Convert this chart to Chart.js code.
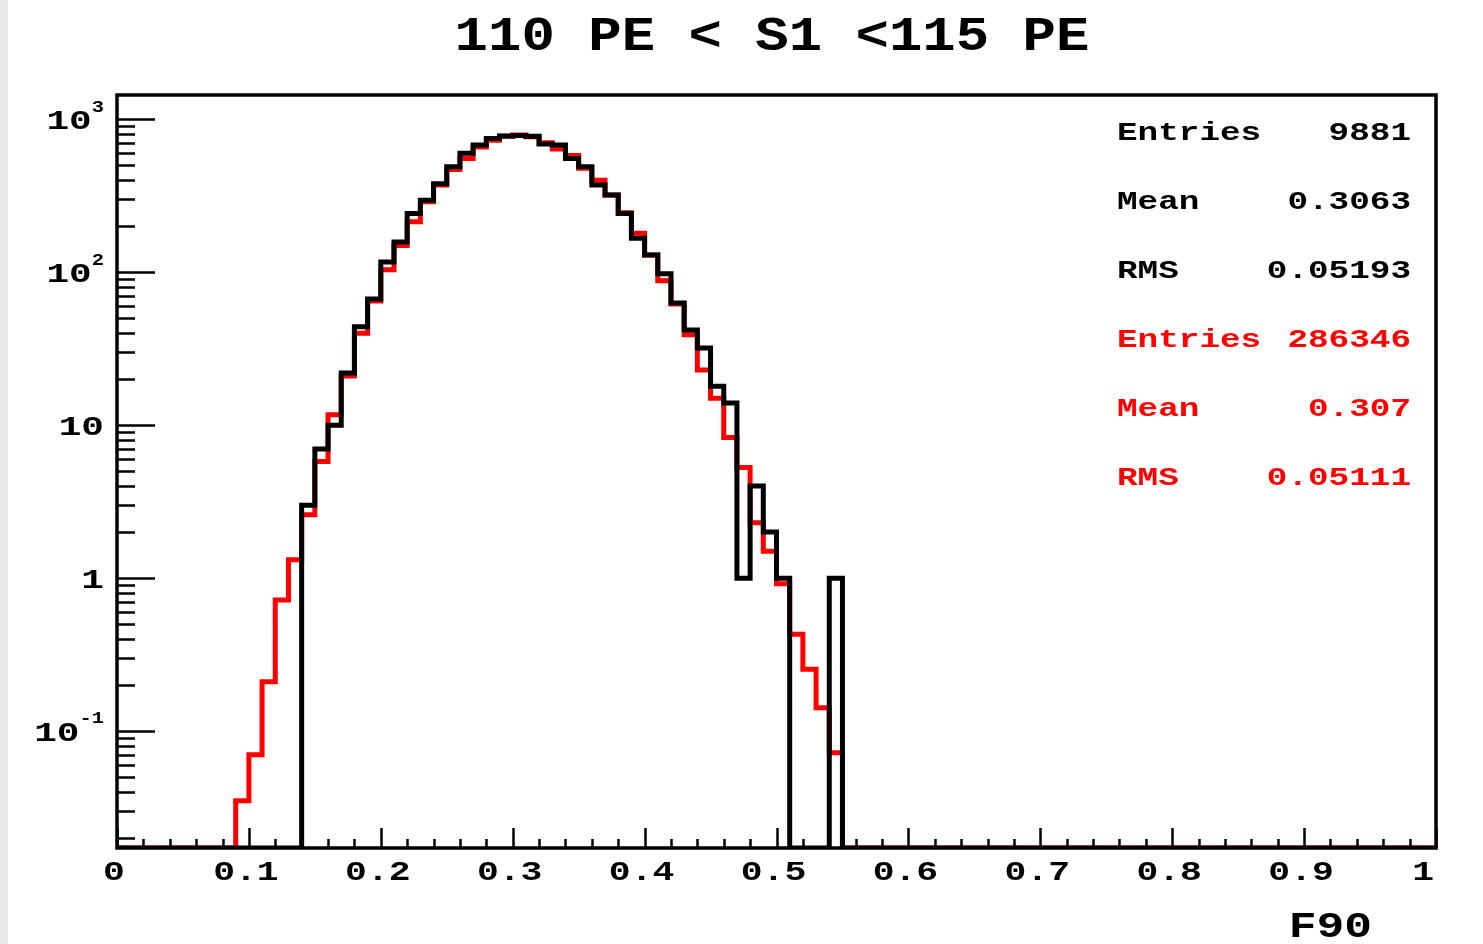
<!DOCTYPE html>
<html>
<head>
<meta charset="utf-8">
<title>F90 distribution, 110 PE &lt; S1 &lt; 115 PE</title>
<script src="https://cdn.jsdelivr.net/npm/chart.js@4/dist/chart.umd.min.js"></script>
<style>
  html, body { margin: 0; padding: 0; background: #ffffff; }
  #wrap { position: relative; width: 1483px; height: 944px; background: #ffffff; }
  #edge { position: absolute; left: 0; top: 0; width: 8px; height: 944px; background: #e9e9e9; }
  canvas { position: absolute; left: 0; top: 0; }
</style>
</head>
<body>
<div id="wrap">
  <div id="edge"></div>
  <canvas id="hist" width="1483" height="944"></canvas>
</div>
<script>
// ---- histogram content -------------------------------------------------
const plotTitle = '110 PE < S1 <115 PE';
const xAxisTitle = 'F90';

// 100 bins of width 0.01 on [0, 1]
const binWidth = 0.01;
const binCount = 100;

// counts per bin, bins 0.00 ... 0.99
const blackCounts = [
  0, 0, 0, 0, 0, 0, 0, 0, 0, 0,
  0, 0, 0, 0, 3, 7, 10, 22, 44, 67,
  117, 158, 243, 296, 380, 490, 600, 680, 751, 780,
  785, 775, 690, 680, 556, 490, 372, 320, 243, 167,
  130, 98, 63, 42, 32, 18, 14, 1, 4, 2,
  1, 0, 0, 0, 1, 0, 0, 0, 0, 0,
  0, 0, 0, 0, 0, 0, 0, 0, 0, 0,
  0, 0, 0, 0, 0, 0, 0, 0, 0, 0,
  0, 0, 0, 0, 0, 0, 0, 0, 0, 0,
  0, 0, 0, 0, 0, 0, 0, 0, 0, 0
];

// reference sample, scaled to the same number of entries
const redCounts = [
  0, 0, 0, 0, 0, 0, 0, 0, 0, 0.035,
  0.070, 0.21, 0.72, 1.32, 2.6, 5.8, 11.7, 21, 40, 65,
  104, 150, 214, 290, 372, 470, 556, 660, 730, 775,
  790, 770, 705, 640, 580, 480, 400, 320, 245, 180,
  130, 88, 62, 39, 23, 15, 8.3, 5.3, 2.3, 1.5,
  0.92, 0.43, 0.254, 0.142, 0.072, 0, 0, 0, 0, 0,
  0, 0, 0, 0, 0, 0, 0, 0, 0, 0,
  0, 0, 0, 0, 0, 0, 0, 0, 0, 0,
  0, 0, 0, 0, 0, 0, 0, 0, 0, 0,
  0, 0, 0, 0, 0, 0, 0, 0, 0, 0
];

// axis ticks
const xTickValues = [0, 0.1, 0.2, 0.3, 0.4, 0.5, 0.6, 0.7, 0.8, 0.9, 1];
const xTickLabels = ['0', '0.1', '0.2', '0.3', '0.4', '0.5', '0.6', '0.7', '0.8', '0.9', '1'];
const yDecadeExponents = [-1, 0, 1, 2, 3];

// statistics box
const statsBlackNames = ['Entries', 'Mean', 'RMS'];
const statsBlackValues = ['9881', '0.3063', '0.05193'];
const statsRedNames = ['Entries', 'Mean', 'RMS'];
const statsRedValues = ['286346', '0.307', '0.05111'];

// ---- axis ranges -------------------------------------------------------
const yMin = 0.01718;
const yMax = 1445;

// ---- helpers ------------------------------------------------------------
// Each bin becomes a point at its low edge; a final point closes the last bin.
// Empty bins sit on the lower frame edge, as on a log axis there is no zero.
function stepPoints(counts) {
  const level = c => (c > 0 ? c : yMin);
  const pts = counts.map((c, i) => ({ x: +(i * binWidth).toFixed(4), y: level(c) }));
  pts.push({ x: +(binCount * binWidth).toFixed(4), y: level(counts[counts.length - 1]) });
  return pts;
}

const FONT = '"Liberation Mono", "DejaVu Sans Mono", monospace';

function drawText(ctx, text, x, y, o) {
  ctx.save();
  ctx.font = (o.weight || 'bold') + ' ' + o.size + 'px ' + FONT;
  ctx.fillStyle = o.color || '#000000';
  ctx.textBaseline = 'middle';
  ctx.textAlign = o.align || 'left';
  ctx.translate(x, y);
  ctx.scale(o.sx || 1, 1);
  ctx.fillText(text, 0, 0);
  ctx.restore();
}

function textWidth(ctx, text, o) {
  ctx.save();
  ctx.font = (o.weight || 'bold') + ' ' + o.size + 'px ' + FONT;
  const w = ctx.measureText(text).width * (o.sx || 1);
  ctx.restore();
  return w;
}

// Frame, inward ticks, labels, title and statistics in the ROOT style
const rootDecor = {
  id: 'rootDecor',
  afterDatasetsDraw(chart) {
    const ctx = chart.ctx;
    const a = chart.chartArea;
    const xs = chart.scales.x;
    const ys = chart.scales.y;

    ctx.save();
    ctx.strokeStyle = '#000000';
    ctx.lineCap = 'butt';

    // x ticks: major every 0.1, minor every 0.02
    ctx.lineWidth = 2.5;
    for (let k = 0; k <= 50; k++) {
      const v = k * 0.02;
      const px = Math.round(xs.getPixelForValue(v)) + 0.5;
      const len = (k % 5 === 0) ? 20 : 9;
      ctx.beginPath();
      ctx.moveTo(px, a.bottom);
      ctx.lineTo(px, a.bottom - len);
      ctx.stroke();
    }

    // y ticks: decades long, 2..9 short
    for (let d = -2; d <= 3; d++) {
      for (let m = 1; m <= 9; m++) {
        const v = m * Math.pow(10, d);
        if (v < yMin || v > yMax) continue;
        const py = Math.round(ys.getPixelForValue(v)) + 0.5;
        const len = (m === 1) ? 38 : 18;
        ctx.beginPath();
        ctx.moveTo(a.left, py);
        ctx.lineTo(a.left + len, py);
        ctx.stroke();
      }
    }

    // frame
    ctx.lineWidth = 3.5;
    ctx.strokeRect(a.left, a.top, a.right - a.left, a.bottom - a.top);
    ctx.restore();

    // x tick labels
    const xl = { size: 28, sx: 1.3 };
    xTickValues.forEach((v, i) => {
      let cx = xs.getPixelForValue(v) - 3;
      const w = textWidth(ctx, xTickLabels[i], xl);
      if (cx + w / 2 > a.right - 2) cx = a.right - 2 - w / 2;
      drawText(ctx, xTickLabels[i], cx, a.bottom + 25, Object.assign({ align: 'center' }, xl));
    });

    // y tick labels, 10 with a raised exponent
    const base = { size: 28, sx: 1.35 };
    const sup = { size: 17, sx: 1.2 };
    const rightEdge = 104;
    yDecadeExponents.forEach(e => {
      const py = ys.getPixelForValue(Math.pow(10, e));
      let baseText, supText = '';
      if (e === 0) baseText = '1';
      else if (e === 1) baseText = '10';
      else { baseText = '10'; supText = String(e); }
      const wb = textWidth(ctx, baseText, base);
      const wsup = supText ? textWidth(ctx, supText, sup) : 0;
      const x0 = rightEdge - wb - wsup;
      drawText(ctx, baseText, x0, py + 3, Object.assign({ align: 'left' }, base));
      if (supText) drawText(ctx, supText, x0 + wb, py - 12, Object.assign({ align: 'left' }, sup));
    });

    // title
    drawText(ctx, plotTitle, 772, 38, { size: 48, sx: 1.16, align: 'center' });

    // axis title
    drawText(ctx, xAxisTitle, 1372, 928, { size: 37, sx: 1.25, align: 'right' });

    // statistics
    const st = { size: 26, sx: 1.32 };
    const rows = [];
    statsBlackNames.forEach((n, i) => rows.push([n, statsBlackValues[i], '#000000']));
    statsRedNames.forEach((n, i) => rows.push([n, statsRedValues[i], '#ff0000']));
    rows.forEach((r, i) => {
      const y = 133 + i * 69;
      drawText(ctx, r[0], 1117, y, Object.assign({ align: 'left', color: r[2] }, st));
      drawText(ctx, r[1], 1411, y, Object.assign({ align: 'right', color: r[2] }, st));
    });
  }
};

new Chart(document.getElementById('hist'), {
  type: 'line',
  data: {
    datasets: [
      {
        label: 'reference',
        data: stepPoints(redCounts),
        stepped: 'before',
        borderColor: '#ff0000',
        borderWidth: 5,
        borderJoinStyle: 'miter',
        borderCapStyle: 'butt',
        pointRadius: 0,
        fill: false,
        order: 2
      },
      {
        label: 'data',
        data: stepPoints(blackCounts),
        stepped: 'before',
        borderColor: '#000000',
        borderWidth: 5,
        borderJoinStyle: 'miter',
        borderCapStyle: 'butt',
        pointRadius: 0,
        fill: false,
        order: 1
      }
    ]
  },
  options: {
    responsive: false,
    animation: false,
    events: [],
    layout: { padding: { left: 117, top: 95, right: 47, bottom: 96 } },
    scales: {
      x: { type: 'linear', min: 0, max: 1, display: false },
      y: { type: 'logarithmic', min: yMin, max: yMax, display: false }
    },
    plugins: {
      legend: { display: false },
      title: { display: false },
      tooltip: { enabled: false }
    }
  },
  plugins: [rootDecor]
});
</script>
</body>
</html>
